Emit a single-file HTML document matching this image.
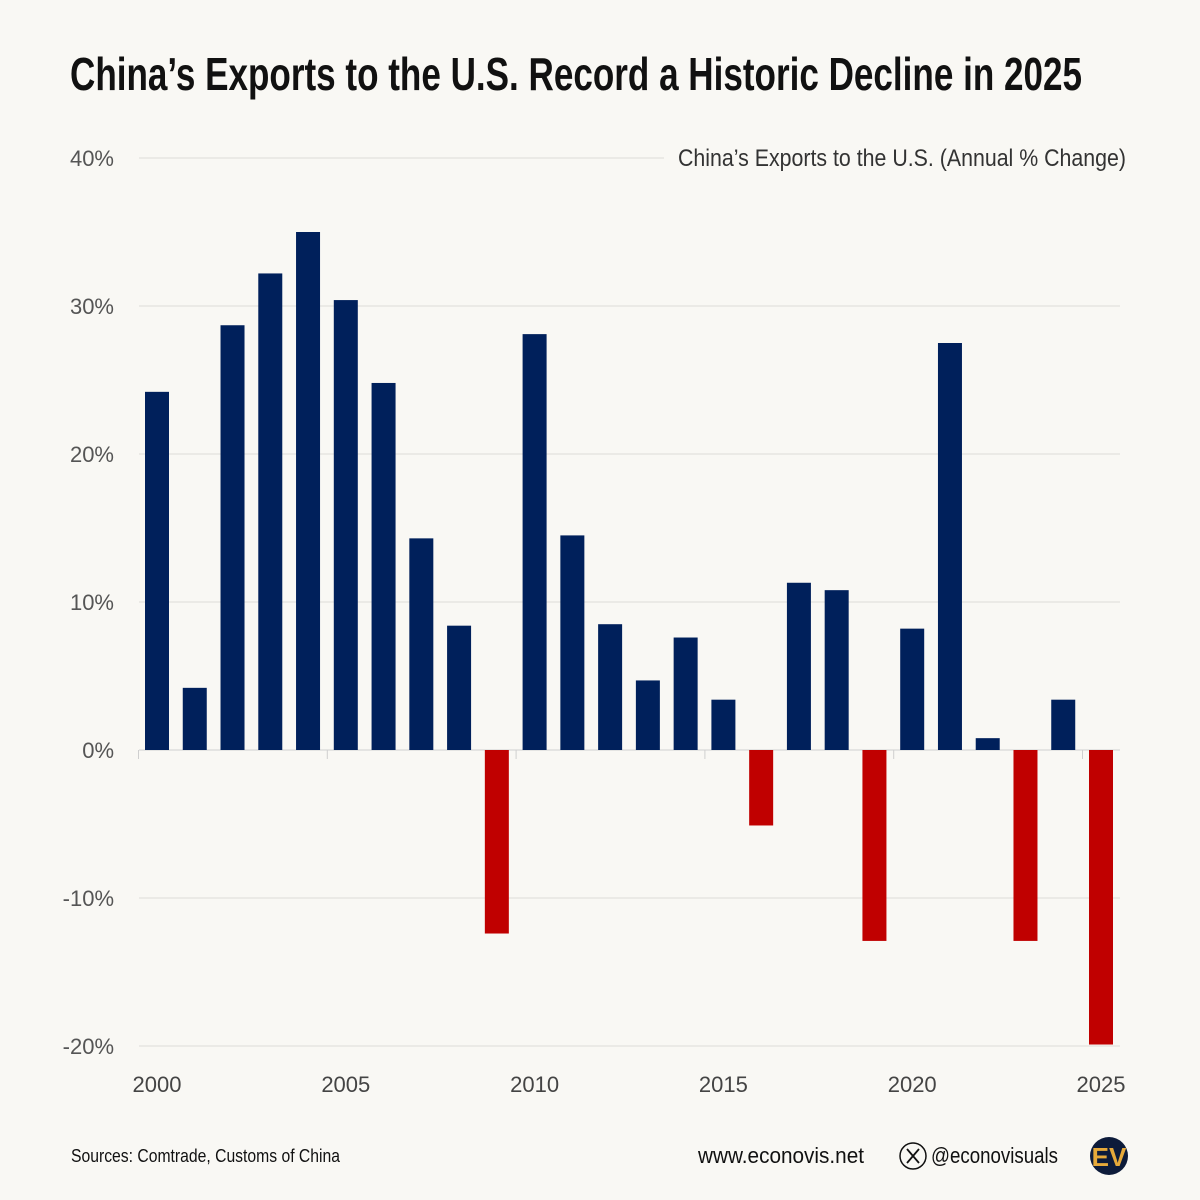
<!DOCTYPE html>
<html><head><meta charset="utf-8"><style>
html,body{margin:0;padding:0;background:#f9f8f4;}
body{width:1200px;height:1200px;position:relative;overflow:hidden;font-family:"Liberation Sans Narrow","Liberation Sans",sans-serif;}
</style></head><body>
<svg width="1200" height="1200" xmlns="http://www.w3.org/2000/svg" style="position:absolute;left:0;top:0">
<rect width="1200" height="1200" fill="#f9f8f4"/>
<text x="70" y="90" font-size="46" font-weight="bold" fill="#111" style="font-family:'Liberation Sans Narrow','Liberation Sans',sans-serif" textLength="1012" lengthAdjust="spacingAndGlyphs">China’s Exports to the U.S. Record a Historic Decline in 2025</text>
<g id="grid"></g>
<g id="bars"></g>
<g id="xlabels"></g>
<rect x="664" y="140" width="466" height="36" fill="#f9f8f4"/>
<text x="1126" y="166" text-anchor="end" font-size="24" fill="#333" textLength="448" lengthAdjust="spacingAndGlyphs">China’s Exports to the U.S. (Annual % Change)</text>
<text x="71" y="1162" font-size="18" fill="#111" textLength="269" lengthAdjust="spacingAndGlyphs">Sources: Comtrade, Customs of China</text>
<text x="698" y="1163" font-size="22" fill="#111" textLength="166" lengthAdjust="spacingAndGlyphs">www.econovis.net</text>
<g>
<circle cx="913" cy="1156" r="13" fill="none" stroke="#111" stroke-width="1.5"/>
<path d="M907 1149 L919 1163 M919 1149 L907 1163" stroke="#111" stroke-width="1.8"/>
</g>
<text x="931" y="1163" font-size="22" fill="#111" textLength="127" lengthAdjust="spacingAndGlyphs">@econovisuals</text>
<g>
<circle cx="1109" cy="1156" r="19" fill="#0d1b3a"/>
<text x="1109" y="1166" text-anchor="middle" font-size="26" font-weight="bold" fill="#e6a93a">EV</text>
</g>
</svg>
<script>
const years=[2000,2001,2002,2003,2004,2005,2006,2007,2008,2009,2010,2011,2012,2013,2014,2015,2016,2017,2018,2019,2020,2021,2022,2023,2024,2025];
const values=[24.2,4.2,28.7,32.2,35.0,30.4,24.8,14.3,8.4,-12.4,28.1,14.5,8.5,4.7,7.6,3.4,-5.1,11.3,10.8,-12.9,8.2,27.5,0.8,-12.9,3.4,-19.9];
const yTicks=[40,30,20,10,0,-10,-20];
const yTickLabels=["40%","30%","20%","10%","0%","-10%","-20%"];
const xLabelYears=[2000,2005,2010,2015,2020,2025];
const NS="http://www.w3.org/2000/svg";
const y0=750,pxPer=14.8,bandStart=138.5,band=37.76,barW=24;
const y=v=>y0-v*pxPer;
const bx=i=>bandStart+i*band;
function mk(t,a,p){const e=document.createElementNS(NS,t);for(const k in a)e.setAttribute(k,a[k]);p.appendChild(e);return e;}
const grid=document.getElementById('grid'),bars=document.getElementById('bars'),xl=document.getElementById('xlabels');
yTicks.forEach((t,i)=>{
 const l=mk('line',{x1:139,x2:1120,y1:y(t),y2:y(t),stroke:t===0?'#cfcfcf':'#dddcd8','stroke-width':1},grid);
 
 
 const tx=mk('text',{x:114,y:y(t)+8,'text-anchor':'end','font-size':22,fill:'#555'},grid);
 tx.textContent=yTickLabels[i];
 
 
});
for(let k=0;k<=5;k++){
 const x=bandStart+k*5*band;
 const l=mk('line',{x1:x,x2:x,y1:y0,y2:y0+9,stroke:'#cfcfcf','stroke-width':1},grid);
 
 
}
values.forEach((v,i)=>{
 const top=Math.min(y(v),y0),h=Math.abs(y(v)-y0);
 const r=mk('rect',{x:bx(i)+6.5,y:top,width:barW,height:h,fill:v>=0?'#00205b':'#c00000'},bars);
 
 
});
xLabelYears.forEach(yr=>{
 const i=years.indexOf(yr);
 const t=mk('text',{x:bx(i)+6.5+barW/2,y:1092,'text-anchor':'middle','font-size':22,fill:'#444'},xl);
 t.textContent=yr;
 
 
});
</script>
</body></html>
